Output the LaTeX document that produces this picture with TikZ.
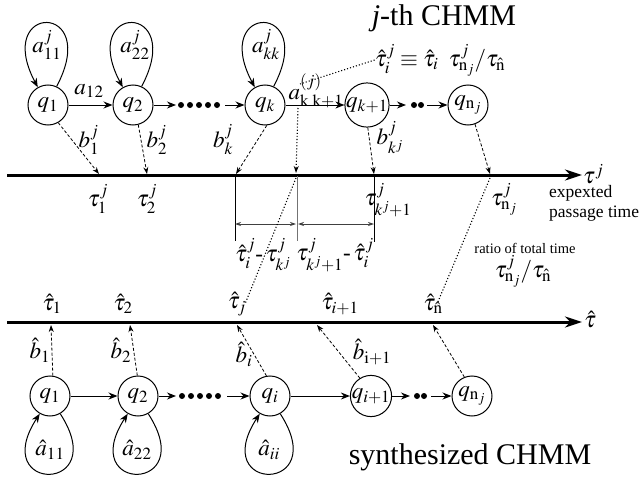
\documentclass[tikz,border=0pt]{standalone}
\usepackage{mathptmx}
\usepackage[no-math]{fontspec}
\setmainfont{Liberation Serif}
\usetikzlibrary{arrows.meta}
\tikzset{
  st/.style={circle,draw,line width=1pt,minimum size=40pt,inner sep=0pt,font=\fontsize{23}{27}\selectfont},
  lab/.style={inner sep=0pt,font=\fontsize{23}{27}\selectfont},
  tr/.style={line width=1pt,-{Stealth[length=9pt,width=7pt]}},
  em/.style={densely dashed,line width=0.8pt,-{Stealth[length=7pt,width=5pt]}},
  dt/.style={dotted,line width=1.1pt},
  dtar/.style={dotted,line width=1.1pt,-{Stealth[length=7pt,width=5pt]}},
  axis/.style={line width=3pt,-{Stealth[length=17pt,width=11pt]}},
  brk/.style={line width=0.8pt,black!75,{Stealth[length=6pt,width=4pt]}-{Stealth[length=6pt,width=4pt]}},
  big/.style={inner sep=0pt,font=\fontsize{30}{34}\selectfont},
}
\begin{document}
\begin{tikzpicture}[x=1pt,y=-1pt]
\useasboundingbox (0,0) rectangle (641,479);

% titles
\node[big] (title1) at (444,18) {\textit{j}-th CHMM};
\node[big] (title2) at (470,457) {synthesized CHMM};

% axes
\coordinate (axTs) at (7,175);
\coordinate (axTe) at (582,175);
\draw[axis] (axTs) -- (axTe);
\node[lab,anchor=west] (tauj) at (583,174) {$\tau^{j}$};
\node[inner sep=0pt,anchor=west,align=left,font=\fontsize{17.5}{20}\selectfont] (ept) at (549,203) {expexted\\passage time};

\coordinate (axBs) at (7,322);
\coordinate (axBe) at (582,322);
\draw[axis] (axBs) -- (axBe);
\node[lab,anchor=west] (tauh) at (584,320) {$\hat{\tau}$};

% top chain
\node[st] (q1) at (48,105) {$q_1$};
\node[st] (q2) at (133,105) {$q_2$};
\node[st] (qk) at (265,105) {$q_k$};
\node[st] (qk1) at (367,105) {$q_{k+1}$};
\node[st] (qn) at (468,105) {$q_{\mathrm{n}_j}$};

\draw[tr] (q1) -- (q2);
\node[lab] (a12) at (89,91) {$a_{12}$};
\coordinate (da1) at (176,105);
\coordinate (db1) at (225,105);
\draw[tr] (q2) -- (da1);
\foreach \x in {181,190,199,208,217} \fill (\x,105) circle (3pt);
\draw[tr] (db1) -- (qk);
\draw[tr] (qk) -- (qk1);
\node[lab] (akk1) at (316,91) {$a^{(j)}_{\mathrm{k\;k+1}}$};
\coordinate (da2) at (406,105);
\coordinate (db2) at (427,105);
\draw[tr] (qk1) -- (da2);
\foreach \x in {414,421} \fill (\x,105) circle (3pt);
\draw[tr] (db2) -- (qn);

% top loops
\draw[tr] (q1.65) .. controls +(45,-85) and +(-45,-85) .. (q1.120);
\draw[tr] (q2.65) .. controls +(45,-85) and +(-45,-85) .. (q2.120);
\draw[tr] (qk.65) .. controls +(45,-85) and +(-45,-85) .. (qk.120);
\node[lab] (a11) at (47,45) {$a^{j}_{11}$};
\node[lab] (a22) at (135,45) {$a^{j}_{22}$};
\node[lab] (akk) at (266,45) {$a^{j}_{kk}$};

% top emissions
\coordinate (t1) at (99,174);
\coordinate (t2) at (147,174);
\coordinate (tk) at (236,174);
\coordinate (tk1) at (374,174);
\coordinate (tn) at (490,174);
\draw[em] (q1.-60) -- (t1);
\draw[em] (q2.-75) -- (t2);
\draw[em] (qk.-85) -- (tk);
\draw[em] (qk1.-88) -- (tk1);
\draw[em] (qn.-70) -- (tn);
\node[lab] (b1) at (89,140) {$b^{j}_{1}$};
\node[lab] (b2) at (157,140) {$b^{j}_{2}$};
\node[lab] (bk) at (223,140) {$b^{j}_{k}$};
\node[lab] (bkj) at (390,138) {$b^{j}_{k^j}$};

% top axis labels
\node[lab] (tau1) at (98,199) {$\tau^{j}_{1}$};
\node[lab] (tau2) at (147,199) {$\tau^{j}_{2}$};
\node[lab] (taukj) at (388,200) {$\tau^{j}_{k^j+1}$};
\node[lab] (taun) at (504,199) {$\tau^{j}_{\mathrm{n}_j}$};

% equation and dotted lines
\node[lab] (eq) at (440,60) {$\hat{\tau}^{j}_{i}\equiv\hat{\tau}_{i}\;\;\tau^{j}_{\mathrm{n}_j}/\tau_{\hat{\mathrm{n}}}$};
\coordinate (dA) at (300,84);
\coordinate (dB) at (298,108);
\coordinate (ax1) at (296,173);
\draw[dt] (eq.west) -- (dA);
\draw[dtar] (dB) -- (ax1);

% brackets
\coordinate (v1t) at (235,176); \coordinate (v1b) at (235,241);
\coordinate (v2t) at (297,176); \coordinate (v2b) at (297,241);
\coordinate (v3t) at (374,176); \coordinate (v3b) at (374,242);
\draw[line width=0.9pt] (v1t) -- (v1b);
\draw[line width=1pt,black!55] (v2t) -- (v2b);
\draw[line width=0.9pt] (v3t) -- (v3b);
\coordinate (h1) at (235,224); \coordinate (h2) at (296,224);
\coordinate (h3) at (298,224); \coordinate (h4) at (374,224);
\draw[brk] (h1) -- (h2);
\draw[brk] (h3) -- (h4);
\node[lab] (diff1) at (263,255) {$\hat{\tau}^{j}_{i}\mbox{-}\,\tau^{j}_{k^j}$};
\node[lab] (diff2) at (335,255) {$\tau^{j}_{k^j+1}\mbox{-}\,\hat{\tau}^{j}_{i}$};

\node[inner sep=0pt,font=\fontsize{14.5}{17}\selectfont] (ratio) at (525,248) {ratio of total time};
\node[lab] (ratioeq) at (523,271) {$\tau^{j}_{\mathrm{n}_j}/\tau_{\hat{\mathrm{n}}}$};

% bottom axis labels
\node[lab] (th1) at (52,304) {$\hat{\tau}_{1}$};
\node[lab] (th2) at (123,304) {$\hat{\tau}_{2}$};
\node[lab] (thj) at (237,304) {$\hat{\tau}_{j}$};
\node[lab] (thi1) at (340,304) {$\hat{\tau}_{i+1}$};
\node[lab] (thn) at (433,304) {$\hat{\tau}_{\hat{\mathrm{n}}}$};

\coordinate (ax2) at (296,178);
\coordinate (ax3) at (490,178);
\coordinate (lj) at (245,304);
\coordinate (ln) at (437,304);
\draw[dt] (ax2) -- (lj);
\draw[dt] (ax3) -- (ln);

% bottom chain
\node[st] (p1) at (50,396) {$q_1$};
\node[st] (p2) at (138,396) {$q_2$};
\node[st] (pi) at (270,396) {$q_i$};
\node[st] (pi1) at (371,396) {$q_{i+1}$};
\node[st] (pn) at (472,396) {$q_{\mathrm{n}_j}$};

\draw[tr] (p1) -- (p2);
\coordinate (da3) at (176,396);
\coordinate (db3) at (227,396);
\draw[tr] (p2) -- (da3);
\foreach \x in {182,191,200,209,218} \fill (\x,396) circle (3pt);
\draw[tr] (db3) -- (pi);
\draw[tr] (pi) -- (pi1);
\coordinate (da4) at (410,396);
\coordinate (db4) at (431,396);
\draw[tr] (pi1) -- (da4);
\foreach \x in {417,424} \fill (\x,396) circle (3pt);
\draw[tr] (db4) -- (pn);

% bottom loops
\draw[tr] (p1.-60) .. controls +(52,80) and +(-52,80) .. (p1.-120);
\draw[tr] (p2.-60) .. controls +(52,80) and +(-52,80) .. (p2.-120);
\draw[tr] (pi.-60) .. controls +(52,80) and +(-52,80) .. (pi.-120);
\node[lab] (ah11) at (50,450) {$\hat{a}_{11}$};
\node[lab] (ah22) at (137,450) {$\hat{a}_{22}$};
\node[lab] (ahii) at (269,450) {$\hat{a}_{ii}$};

% bottom emissions
\coordinate (s1) at (51,325);
\coordinate (s2) at (130,325);
\coordinate (si) at (237,325);
\coordinate (si1) at (317,325);
\coordinate (sn) at (433,325);
\draw[em] (p1.82) -- (s1);
\draw[em] (p2.92) -- (s2);
\draw[em] (pi.100) -- (si);
\draw[em] (pi1.122) -- (si1);
\draw[em] (pn.112) -- (sn);
\node[lab] (bh1) at (40,350) {$\hat{b}_{1}$};
\node[lab] (bh2) at (121,350) {$\hat{b}_{2}$};
\node[lab] (bhi) at (244,354) {$\hat{b}_{i}$};
\node[lab] (bhi1) at (372,352) {$\hat{b}_{\mathrm{i+1}}$};
\end{tikzpicture}
\end{document}
